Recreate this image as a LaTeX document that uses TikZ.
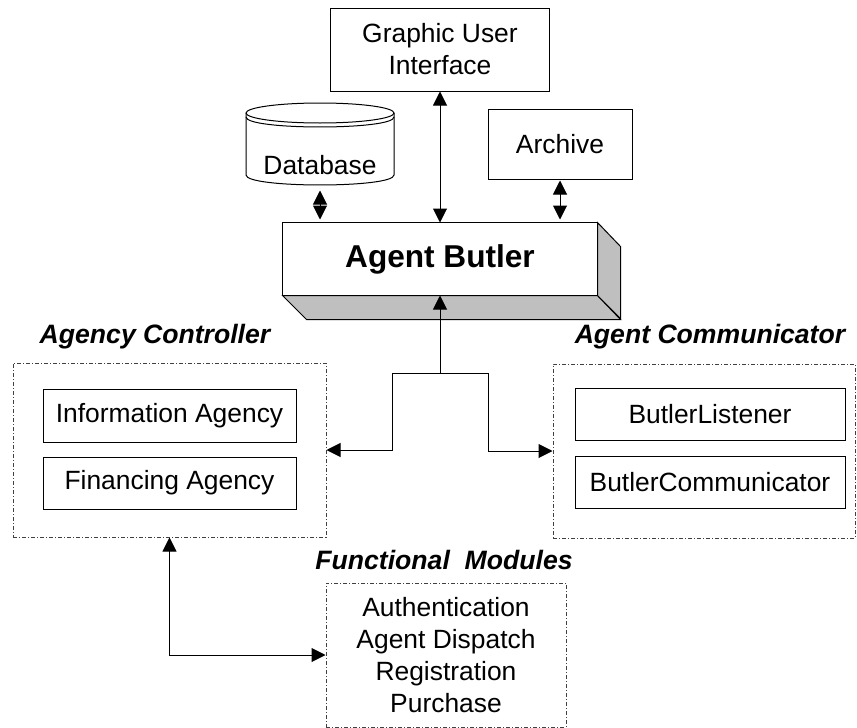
\documentclass[tikz,border=0pt]{standalone}
\usepackage{fontspec}
\setmainfont{Liberation Sans}
\usetikzlibrary{arrows.meta}
\begin{document}
\begin{tikzpicture}[x=0.5pt,y=-0.5pt,
  line width=0.5pt,
  tip/.tip={Triangle[length=7pt,width=7pt]},
  txt/.style={font=\fontsize{13.2}{16}\selectfont},
  % node size given in pixels of the 857x728 canvas (1px = 0.5pt)
  size/.style n args={2}{minimum width=#1*0.5pt, minimum height=#2*0.5pt},
  plainbox/.style={draw, rectangle, inner sep=0pt, txt, align=center},
  groupbox/.style={draw=black!75, rectangle, inner sep=0pt,
    dash pattern=on 2pt off 1pt on 0.5pt off 1pt},
  grouplabel/.style={font=\fontsize{13.3}{16}\selectfont\bfseries\itshape},
  link/.style={-tip},
  duplex/.style={tip-tip}]
\useasboundingbox (0,0) rectangle (857,728);

% top row
\node[plainbox, size={219}{83}] (gui) at (440,49.5) {Graphic User\\Interface};
\node[plainbox, size={144}{70}] (arch) at (560,144) {Archive};

% database drawn as a cylinder around an invisible node
\node[inner sep=0pt, size={148}{82}] (db) at (320,144) {};
\draw[fill=white] (246,113) -- (246,175) .. controls (246,188.3) and (394,188.3) .. (394,175)
  -- (394,113);
\draw (320,113) ellipse[x radius=74,y radius=10];
\draw (246,117) .. controls (246,130.3) and (394,130.3) .. (394,117);
\node[txt] at (320,165) {Database};

% agent butler block with shaded depth faces
\node[inner sep=0pt, size={314}{72}] (butler) at (440,259) {};
\draw[fill=gray!50] (butler.south west) -- (butler.south east) -- ++(23,24) -- ++(-314,0) -- cycle;
\draw[fill=gray!50] (butler.north east) -- ++(23,24) -- ++(0,72) -- (butler.south east) -- cycle;
\draw[fill=white] (butler.south west) rectangle (butler.north east);
\node[font=\fontsize{15.8}{18}\selectfont\bfseries] at (butler.center) {Agent Butler};

% agency controller group
\node[grouplabel] at (155,337) {Agency Controller};
\node[groupbox, size={313}{174}] (ctrl) at (169.5,450) {};
\node[plainbox, size={253}{53}] (info) at (169.5,415.5) {Information Agency};
\node[plainbox, size={253}{52}] (fin) at (169.5,483) {Financing Agency};

% agent communicator group
\node[grouplabel] at (710,337) {Agent Communicator};
\node[groupbox, size={302}{174}] (comm) at (704,451) {};
\node[plainbox, size={270}{52}] (bl) at (710,414) {ButlerListener};
\node[plainbox, size={270}{52}] (bc) at (710,482) {ButlerCommunicator};

% functional modules group
\node[grouplabel] at (444,560) {Functional\ \ Modules};
\node[groupbox, size={240}{144}, txt, align=center] (fm) at (446,655)
  {Authentication\\Agent Dispatch\\Registration\\Purchase};

% connectors
\draw[duplex] (butler.north) -- (gui.south);
\draw[duplex, shorten <=2.5pt, shorten >=1.5pt] (db.south) -- (db.south |- butler.north);
\draw[duplex, shorten <=0.5pt, shorten >=1.5pt] (arch.south) -- (arch.south |- butler.north);

\coordinate (j) at (440,373);
\coordinate (jl) at (392,373);
\coordinate (jr) at (488,373);
\draw[link] (j) -- (butler.south);
\draw[link] (j) -- (jl) |- (ctrl.east);
\draw[link] (j) -- (jr) |- (comm.west);
\draw[duplex] (ctrl.south) |- (fm.west);
\end{tikzpicture}
\end{document}
